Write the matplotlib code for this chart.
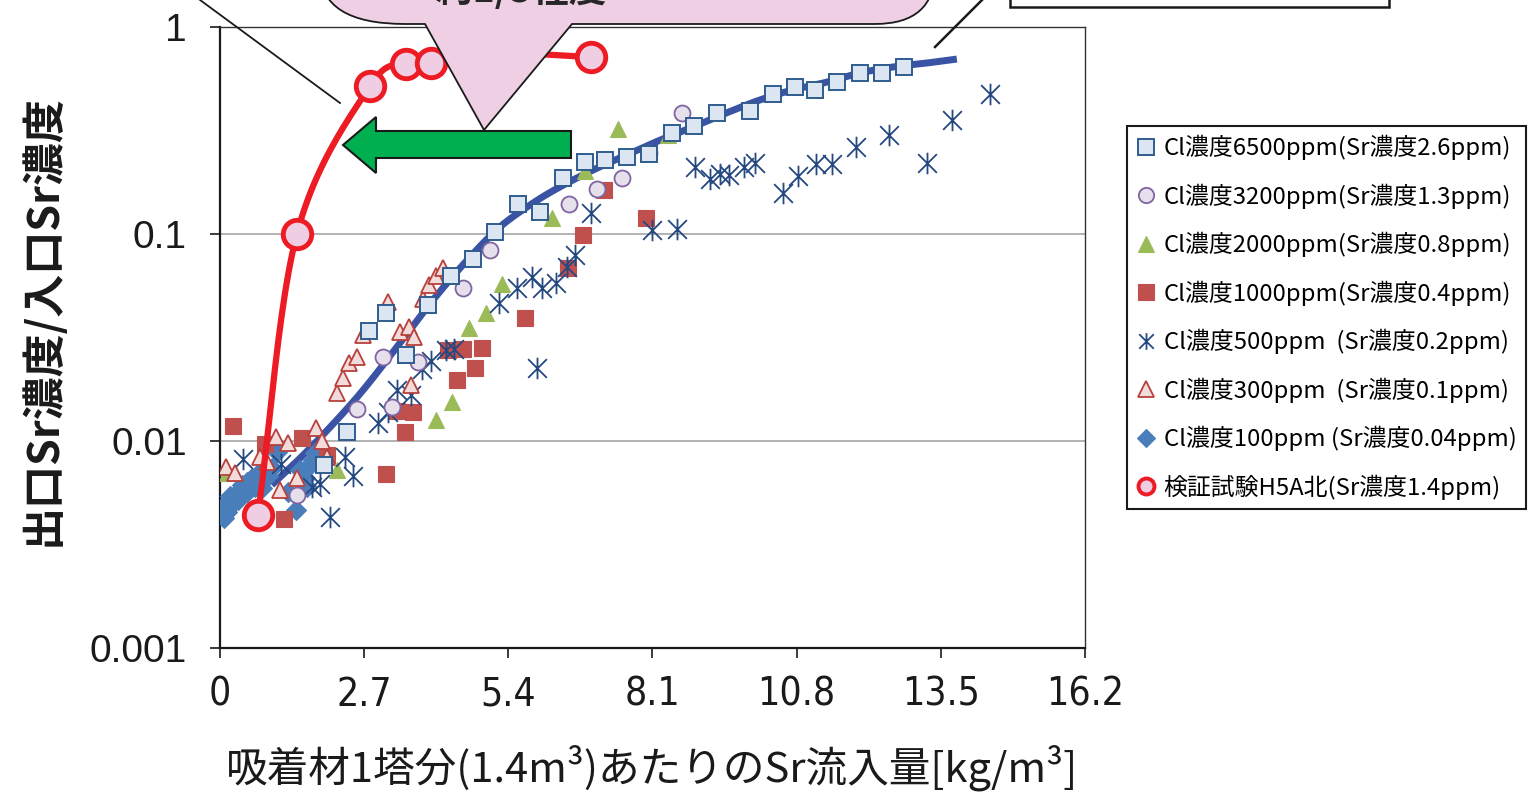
import numpy as np
import matplotlib
matplotlib.use('Agg')
import matplotlib.pyplot as plt
from matplotlib.path import Path
from matplotlib.patches import PathPatch, Polygon
from matplotlib.lines import Line2D
from matplotlib.ticker import FixedLocator, FixedFormatter, NullLocator
from matplotlib.font_manager import FontProperties
from matplotlib import font_manager as fm

# ---------------- data ----------------
x_ticks = [0, 2.7, 5.4, 8.1, 10.8, 13.5, 16.2]
x_tick_labels = ['0', '2.7', '5.4', '8.1', '10.8', '13.5', '16.2']
y_ticks = [0.001, 0.01, 0.1, 1]
y_tick_labels = ['0.001', '0.01', '0.1', '1']

legend_labels = [
    'Cl濃度6500ppm(Sr濃度2.6ppm)',
    'Cl濃度3200ppm(Sr濃度1.3ppm)',
    'Cl濃度2000ppm(Sr濃度0.8ppm)',
    'Cl濃度1000ppm(Sr濃度0.4ppm)',
    'Cl濃度500ppm  (Sr濃度0.2ppm)',
    'Cl濃度300ppm  (Sr濃度0.1ppm)',
    'Cl濃度100ppm (Sr濃度0.04ppm)',
    '検証試験H5A北(Sr濃度1.4ppm)',
]

cl6500_x = [1.95, 2.38, 2.79, 3.11, 3.48, 3.90, 4.33, 4.74, 5.15, 5.58, 5.99, 6.42, 6.84, 7.21,
            7.62, 8.03, 8.46, 8.88, 9.31, 9.93, 10.36, 10.77, 11.14, 11.55, 11.99, 12.40, 12.81]
cl6500_y = [0.00766, 0.0110, 0.0340, 0.0415, 0.0260, 0.0454, 0.0627, 0.0757, 0.102, 0.140, 0.128,
            0.187, 0.223, 0.228, 0.236, 0.243, 0.308, 0.333, 0.385, 0.393, 0.474, 0.513, 0.497,
            0.542, 0.600, 0.600, 0.641]

fit_x = [0.97, 1.69, 2.57, 3.37, 3.99, 4.63, 5.24, 5.86, 6.37, 6.99, 7.62, 8.24, 8.86, 9.49,
         10.11, 10.73, 11.37, 11.99, 12.60, 13.24, 13.80]
fit_y = [0.00613, 0.00925, 0.0163, 0.0297, 0.048, 0.0748, 0.108, 0.141, 0.169, 0.204, 0.241,
         0.284, 0.329, 0.385, 0.444, 0.497, 0.542, 0.600, 0.641, 0.670, 0.700]

cl3200_x = [1.44, 2.57, 3.05, 3.22, 3.71, 4.55, 5.06, 6.54, 7.06, 7.53, 8.03, 8.65]
cl3200_y = [0.00548, 0.0143, 0.0255, 0.0146, 0.0241, 0.0548, 0.0837, 0.140, 0.165, 0.187, 0.246, 0.385]

cl2000_x = [0.13, 2.19, 4.04, 4.34, 4.66, 4.98, 5.28, 6.22, 6.84, 7.45, 8.39]
cl2000_y = [0.0070, 0.00724, 0.0126, 0.0154, 0.0352, 0.0415, 0.0573, 0.119, 0.201, 0.321, 0.301]

cl1000_x = [0.24, 0.84, 1.54, 2.00, 1.20, 3.11, 3.31, 3.61, 3.46, 4.27, 4.55, 4.91, 4.78, 4.44,
            5.71, 6.52, 6.80, 7.19, 7.98]
cl1000_y = [0.0118, 0.00967, 0.0103, 0.00855, 0.0042, 0.00693, 0.0140, 0.0138, 0.0110, 0.0275,
            0.0278, 0.0281, 0.0226, 0.0197, 0.0393, 0.0686, 0.0989, 0.163, 0.119]

cl500_x = [0.43, 1.14, 1.72, 1.87, 2.06, 2.34, 2.49, 2.96, 3.15, 3.31, 3.58, 3.78, 3.95, 4.23,
           4.38, 5.22, 5.56, 5.84, 6.03, 6.29, 6.50, 6.65, 5.94, 6.95, 8.09, 8.56, 8.90, 9.18,
           9.36, 9.53, 9.81, 10.02, 10.54, 10.82, 11.16, 11.46, 11.91, 12.53, 13.24, 13.71, 14.42]
cl500_y = [0.00818, 0.00774, 0.0060, 0.0062, 0.0043, 0.00837, 0.00678, 0.0122, 0.0138, 0.0176,
           0.0167, 0.0223, 0.0243, 0.0275, 0.0278, 0.0465, 0.0548, 0.0619, 0.0548, 0.0579, 0.0694,
           0.0793, 0.0226, 0.126, 0.104, 0.106, 0.211, 0.185, 0.195, 0.193, 0.211, 0.220, 0.158,
           0.191, 0.218, 0.218, 0.263, 0.301, 0.220, 0.356, 0.474]

cl300_x = [0.11, 0.28, 0.75, 0.88, 1.05, 1.27, 1.12, 1.44, 1.80, 1.91, 2.00, 2.19, 2.30, 2.42,
           2.57, 2.68, 3.15, 3.37, 3.54, 3.63, 3.58, 3.80, 3.91, 4.04, 4.18]
cl300_y = [0.00748, 0.0070, 0.00837, 0.00792, 0.0104, 0.00978, 0.0058, 0.00663, 0.01156, 0.0100,
           0.00837, 0.0171, 0.0201, 0.0238, 0.0255, 0.0325, 0.0469, 0.0337, 0.0356, 0.0318, 0.0187,
           0.0485, 0.0568, 0.0627, 0.0686]

cl100_x = [0.075, 0.13, 0.19, 0.24, 0.30, 0.37, 0.43, 0.51, 0.60, 0.71, 0.79, 0.90, 0.97, 1.07,
           1.27, 1.42, 1.50, 1.59, 1.67, 1.74, 1.82, 0.09, 0.19, 0.34, 0.66, 0.51, 0.22, 0.06,
           0.41, 0.88, 1.78, 1.63, 1.65]
cl100_y = [0.00425, 0.00454, 0.00485, 0.00519, 0.00554, 0.00580, 0.00607, 0.00634, 0.00663,
           0.00693, 0.00593, 0.00678, 0.00741, 0.00885, 0.00568, 0.00465, 0.00724, 0.00663,
           0.00757, 0.00809, 0.00837, 0.00491, 0.00542, 0.00519, 0.0060, 0.00567, 0.00519, 0.0048,
           0.00612, 0.00724, 0.00875, 0.0060, 0.00748]

h5a_x = [0.71, 1.44, 2.81, 3.48, 3.95, 5.06, 6.95]
h5a_y = [0.0044, 0.100, 0.519, 0.662, 0.670, 0.75, 0.716]
h5a_marker_idx = [0, 1, 2, 3, 4, 6]

bubble_text = '約1/3程度'

# ---------------- helpers ----------------
W, H = 1528, 792


def F(px, py):
    return (px / W, 1 - py / H)


def catmull_rom(xs, ys, n=24):
    P = np.column_stack([xs, ys]).astype(float)
    P = np.vstack([2 * P[0] - P[1], P, 2 * P[-1] - P[-2]])
    out = []
    t = np.linspace(0, 1, n, endpoint=False)[:, None]
    for i in range(1, len(P) - 2):
        p0, p1, p2, p3 = P[i - 1], P[i], P[i + 1], P[i + 2]
        pts = 0.5 * ((2 * p1) + (-p0 + p2) * t + (2 * p0 - 5 * p1 + 4 * p2 - p3) * t ** 2
                     + (-p0 + 3 * p1 - 3 * p2 + p3) * t ** 3)
        out.append(pts)
    out.append(P[-2][None, :])
    return np.vstack(out)


def narrow_font():
    try:
        fm.findfont(FontProperties(family='Liberation Sans Narrow'), fallback_to_default=False)
        return FontProperties(family='Liberation Sans Narrow', size=33)
    except Exception:
        pass
    try:
        p = fm.findfont(FontProperties(family='DejaVu Sans', stretch='condensed'))
        if 'ondensed' in p:
            return FontProperties(fname=p, size=28)
    except Exception:
        pass
    return FontProperties(family='Liberation Sans', size=27)


plt.rcParams['font.family'] = ['Liberation Sans', 'Noto Sans CJK JP', 'DejaVu Sans']

fig = plt.figure(figsize=(W / 100, H / 100), dpi=100)
ax = fig.add_axes([220 / W, 1 - 648 / H, 865 / W, 621 / H])
ax.set_yscale('log')
ax.set_xlim(0, 16.2)
ax.set_ylim(0.001, 1)

for gy in [0.01, 0.1]:
    ax.axhline(gy, color='#A6A6A6', lw=1.2, zorder=1)

star = Path([(-1, -1), (1, 1), (-1, 1), (1, -1), (0, -1.15), (0, 1.15)],
            [Path.MOVETO, Path.LINETO, Path.MOVETO, Path.LINETO, Path.MOVETO, Path.LINETO])

fc = catmull_rom(fit_x, np.log10(fit_y))
ax.plot(fc[:, 0], 10 ** fc[:, 1], color='#3A53A4', lw=5, solid_capstyle='butt', zorder=2)

st_1000 = dict(ls='none', marker='s', ms=11, mfc='#C0504D', mec='#C0504D', mew=0.8)
st_2000 = dict(ls='none', marker='^', ms=11.5, mfc='#9BBB59', mec='#9BBB59', mew=0.8)
st_500 = dict(ls='none', marker=star, ms=15.5, mfc='none', mec='#24487F', mew=1.3)
st_100 = dict(ls='none', marker='D', ms=10.5, mfc='#4A7EBB', mec='#4A7EBB', mew=0.8)
st_300 = dict(ls='none', marker='^', ms=12, mfc='#F2DCDB', mec='#B8403C', mew=1.3)
st_3200 = dict(ls='none', marker='o', ms=11.5, mfc='#E6E0EC', mec='#8064A2', mew=1.3)
st_6500 = dict(ls='none', marker='s', ms=11, mfc='#DCE6F2', mec='#2F5C8F', mew=1.4)

ax.plot(cl100_x, cl100_y, zorder=3, **st_100)
ax.plot(cl1000_x, cl1000_y, zorder=3, **st_1000)
ax.plot(cl2000_x, cl2000_y, zorder=3, **st_2000)
ax.plot(cl500_x, cl500_y, zorder=3, **st_500)
ax.plot(cl3200_x, cl3200_y, zorder=3, **st_3200)
ax.plot(cl300_x, cl300_y, zorder=3, **st_300)
ax.plot(cl6500_x, cl6500_y, zorder=3, **st_6500)

hc = catmull_rom(h5a_x, np.log10(h5a_y))
ax.plot(hc[:, 0], 10 ** hc[:, 1], color='#ED1C24', lw=4.5, zorder=4, clip_on=False)
ax.plot([h5a_x[i] for i in h5a_marker_idx], [h5a_y[i] for i in h5a_marker_idx], ls='none',
        marker='o', ms=20.5, mfc='#EFCDE3', mec='#ED1C24', mew=3.5, zorder=5, clip_on=False)

ax.xaxis.set_major_locator(FixedLocator(x_ticks))
ax.xaxis.set_major_formatter(FixedFormatter(x_tick_labels))
ax.yaxis.set_major_locator(FixedLocator(y_ticks))
ax.yaxis.set_major_formatter(FixedFormatter(y_tick_labels))
ax.yaxis.set_minor_locator(NullLocator())
ax.xaxis.set_minor_locator(NullLocator())
for s in ['left', 'bottom']:
    ax.spines[s].set_linewidth(1.6)
    ax.spines[s].set_color('#1A1A1A')
for s in ['top', 'right']:
    ax.spines[s].set_linewidth(1.0)
    ax.spines[s].set_color('#333333')
ax.tick_params(axis='y', which='major', direction='out', length=7, width=1.2, pad=17,
               labelsize=28, colors='#1A1A1A')
ax.tick_params(axis='x', which='major', direction='out', length=7, width=1.2, pad=13,
               colors='#1A1A1A')
xfp = narrow_font()
for lab in ax.get_xticklabels():
    lab.set_fontproperties(xfp)

fig.text(652 / W, 1 - 768 / H, '吸着材1塔分(1.4m³)あたりのSr流入量[kg/m³]', ha='center', va='center',
         fontsize=30, family=['Noto Sans CJK JP'], color='#1A1A1A')
fig.text(42 / W, 1 - 320 / H, '出口Sr濃度/入口Sr濃度', ha='center', va='center', rotation=90,
         fontsize=31, fontweight='bold', family=['Noto Sans CJK JP'], color='#1A1A1A')

# legend
handles = [
    Line2D([], [], **{**st_6500, 'ms': 11}),
    Line2D([], [], **{**st_3200, 'ms': 11}),
    Line2D([], [], **{**st_2000, 'ms': 11}),
    Line2D([], [], **{**st_1000, 'ms': 11}),
    Line2D([], [], **{**st_500, 'ms': 12}),
    Line2D([], [], **{**st_300, 'ms': 11}),
    Line2D([], [], **{**st_100, 'ms': 9}),
    Line2D([], [], ls='none', marker='o', ms=11.5, mfc='#EFCDE3', mec='#ED1C24', mew=2.8),
]
leg = fig.legend(handles, legend_labels, loc='upper left', bbox_to_anchor=F(1127, 126),
                 prop=FontProperties(family=['Noto Sans CJK JP'], size=17.2),
                 frameon=True, fancybox=False, edgecolor='#1A1A1A', framealpha=1,
                 handlelength=0.8, handletextpad=0.35, labelspacing=0.97, borderpad=0.38,
                 borderaxespad=0)
leg.get_frame().set_linewidth(1.5)

# ---- callouts ----
fig.add_artist(Line2D([F(196, -3)[0], F(340, 103)[0]], [F(196, -3)[1], F(340, 103)[1]],
                      color='#1A1A1A', lw=1.3, zorder=10))
fig.add_artist(Line2D([F(985, -3)[0], F(935, 47)[0]], [F(985, -3)[1], F(935, 47)[1]],
                      color='#1A1A1A', lw=1.8, zorder=10))
box = Polygon([F(1010, -40), F(1389, -40), F(1389, 7), F(1010, 7)], closed=True,
              facecolor='white', edgecolor='#1A1A1A', lw=1.8, transform=fig.transFigure, zorder=10)
fig.add_artist(box)

arrow = Polygon([F(343, 145), F(376, 117), F(376, 131), F(571, 131), F(571, 158), F(376, 158),
                 F(376, 173)], closed=True, facecolor='#00B050', edgecolor='#1A1A1A', lw=1.5,
                transform=fig.transFigure, zorder=11)
fig.add_artist(arrow)

bv = [(425, 24), (484, 130), (572, 24), (875, 24), (935, 24), (935, -30), (935, -100),
      (320, -100), (320, -30), (320, 24), (405, 24), (425, 24), (425, 24)]
bc = [Path.MOVETO, Path.LINETO, Path.LINETO, Path.LINETO, Path.CURVE3, Path.CURVE3, Path.LINETO,
      Path.LINETO, Path.LINETO, Path.CURVE3, Path.CURVE3, Path.LINETO, Path.CLOSEPOLY]
bubble = PathPatch(Path([F(*v) for v in bv], bc), facecolor='#EECFE3', edgecolor='#1A1A1A', lw=1.3,
                   transform=fig.transFigure, zorder=12)
fig.add_artist(bubble)
fig.text(607 / W, 1 - 2 / H, bubble_text, ha='right', va='baseline', fontsize=27,
         fontweight='bold', family=['Noto Sans CJK JP'], color='#262626', zorder=13)

fig.savefig('out.png', dpi=100)
